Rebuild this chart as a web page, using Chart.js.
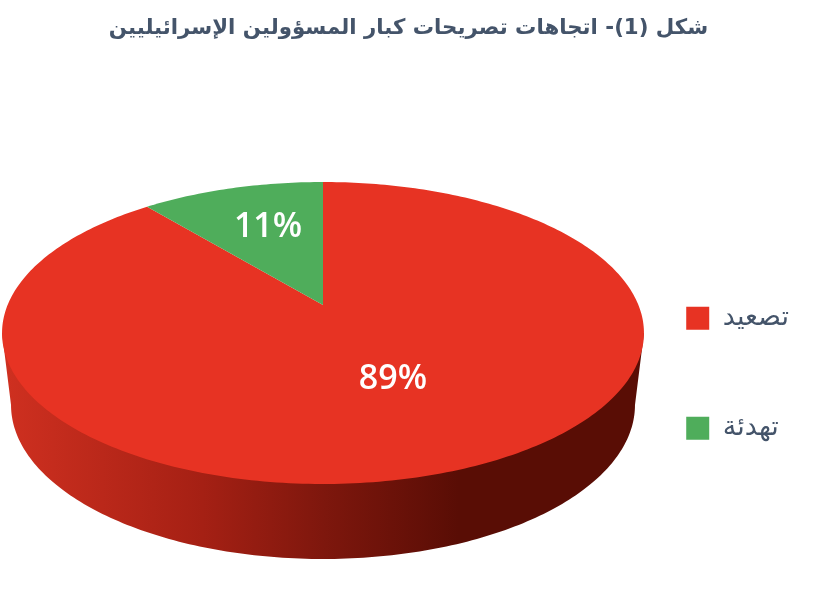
<!DOCTYPE html>
<html lang="ar">
<head>
<meta charset="utf-8">
<title>Chart</title>
<script src="https://cdn.jsdelivr.net/npm/chart.js@4"></script>
<style>
  html, body { margin: 0; padding: 0; background: #fff; }
  canvas { display: block; }
</style>
</head>
<body>
<canvas id="chart" width="820" height="596" dir="rtl"></canvas>
<script>
const chartTitle = 'شكل (1)- اتجاهات تصريحات كبار المسؤولين الإسرائيليين';
const categories = ['تصعيد', 'تهدئة'];
const shares = [89, 11];
const sliceColors = ['#e73323', '#4fad5b'];

// perspective of the tilted disc, fitted to the reference
const apexX = 323, apexY = 305;
const spreadX = 315.4, spreadY = 145.8, tilt = 0.1854;
// lower rim of the side wall
const wallShiftY = 72, wallScaleX = 0.972, wallScaleY = 1.02, rimMidY = 333;
// label placement
const labelRadius = [0.58, 0.565];
const labelNudge = [[1, -14], [0, -7]];

function project(angle, r) {
  const u = Math.cos(angle) * r, v = -Math.sin(angle) * r;
  const w = 1 + tilt * v;
  return [apexX + spreadX * u / w, apexY - spreadY * v / w];
}

function wallPoint(angle) {
  const p = project(angle, 1);
  return [apexX + (p[0] - apexX) * wallScaleX, rimMidY + wallShiftY + (p[1] - rimMidY) * wallScaleY];
}

const pie3d = {
  id: 'pie3d',
  beforeDatasetDraw(chart) {
    const ctx = chart.ctx;
    const arcs = chart.getDatasetMeta(0).data;

    // side wall, from the left extreme of the disc round the front to the right extreme
    const edge = Math.asin(tilt);
    const from = Math.PI - edge, to = edge;
    const left = project(from, 1), right = project(to, 1);
    ctx.save();
    ctx.beginPath();
    ctx.moveTo(left[0], left[1]);
    for (let i = 0; i <= 180; i++) {
      const p = wallPoint(from + (to - from) * i / 180);
      ctx.lineTo(p[0], p[1]);
    }
    ctx.lineTo(right[0], right[1]);
    ctx.closePath();
    const g = ctx.createLinearGradient(3, 0, 645, 0);
    g.addColorStop(0, '#cf3020');
    g.addColorStop(0.31, '#a52014');
    g.addColorStop(0.5, '#7e170d');
    g.addColorStop(0.71, '#590d05');
    g.addColorStop(1, '#590d05');
    ctx.fillStyle = g;
    ctx.fill();

    // top face, one slice per arc element
    arcs.forEach((arc, i) => {
      ctx.beginPath();
      ctx.moveTo(apexX, apexY);
      const steps = Math.ceil((arc.endAngle - arc.startAngle) * 60);
      for (let s = 0; s <= steps; s++) {
        const p = project(arc.startAngle + (arc.endAngle - arc.startAngle) * s / steps, 1);
        ctx.lineTo(p[0], p[1]);
      }
      ctx.closePath();
      ctx.fillStyle = sliceColors[i];
      ctx.fill();
    });
    ctx.restore();
    return false;
  },
  afterDatasetsDraw(chart) {
    const ctx = chart.ctx;
    const total = shares.reduce((a, b) => a + b, 0);
    ctx.save();
    ctx.fillStyle = '#fff';
    ctx.font = '600 34px "Open Sans"';
    ctx.textAlign = 'center';
    ctx.textBaseline = 'middle';
    ctx.direction = 'ltr';
    chart.getDatasetMeta(0).data.forEach((arc, i) => {
      const p = project((arc.startAngle + arc.endAngle) / 2, labelRadius[i]);
      ctx.fillText(Math.round(shares[i] / total * 100) + '%', p[0] + labelNudge[i][0], p[1] + labelNudge[i][1]);
    });
    ctx.restore();
  }
};

new Chart(document.getElementById('chart'), {
  type: 'pie',
  data: {
    labels: categories,
    datasets: [{ data: shares, backgroundColor: sliceColors, borderWidth: 0 }]
  },
  plugins: [pie3d],
  options: {
    responsive: false,
    animation: false,
    layout: { padding: { left: 18, right: 21 } },
    plugins: {
      tooltip: { enabled: false },
      title: {
        display: true,
        text: chartTitle,
        color: '#44546a',
        font: { family: '"DejaVu Sans"', size: 21.3, weight: 'bold' },
        padding: { top: 16, bottom: 109 }
      },
      legend: {
        position: 'right',
        fullSize: false,
        labels: {
          boxWidth: 23,
          boxHeight: 23,
          padding: 83,
          color: '#44546a',
          font: { family: '"DejaVu Sans"', size: 27 }
        }
      }
    }
  }
});
</script>
</body>
</html>
